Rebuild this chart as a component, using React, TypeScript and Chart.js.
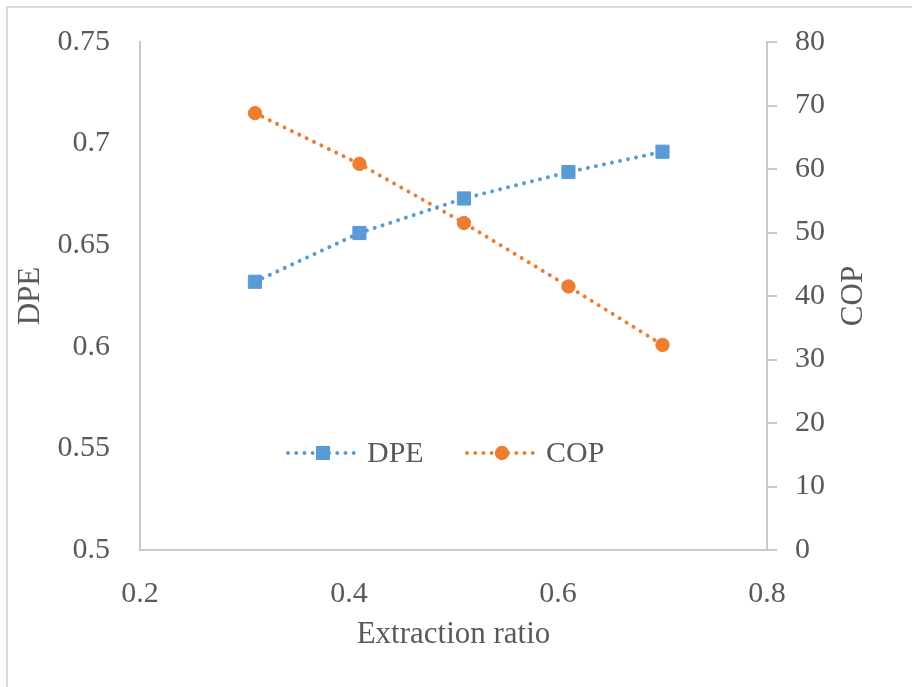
import React, { useEffect, useRef } from "react";
import { Chart, registerables } from "chart.js";

Chart.register(...registerables);

// Extraction ratio values on the x axis
const extractionRatio = [0.31, 0.41, 0.51, 0.61, 0.7];
// Series values
const dpeValues = [0.632, 0.656, 0.673, 0.686, 0.696];
const copValues = [68.8, 60.8, 51.5, 41.5, 32.3];
// Series names
const seriesNames = ["DPE", "COP"];

const BLUE = "#5B9BD5";
const ORANGE = "#ED7D31";
const TEXT = "#595959";
const AXIS = "#c9c9c9";
const FONT = "'Liberation Serif', 'Times New Roman', serif";

const W = 912;
const H = 687;

const fmt = (v: number | string) => String(+Number(v).toFixed(2));

// Right-side axis title that reads bottom-to-top, plus an in-plot legend
const extrasPlugin = {
  id: "extras",
  afterDatasetsDraw(chart: any) {
    const { ctx, chartArea } = chart;
    ctx.save();

    // COP axis title
    ctx.fillStyle = TEXT;
    ctx.font = `31px ${FONT}`;
    ctx.textAlign = "center";
    ctx.textBaseline = "middle";
    ctx.translate(chartArea.right + 87, (chartArea.top + chartArea.bottom) / 2);
    ctx.rotate(-Math.PI / 2);
    ctx.fillText("COP", 0, 0);
    ctx.setTransform(1, 0, 0, 1, 0, 0);

    // Legend inside the plot area
    const ly = chartArea.top + 411;
    const items = [
      { name: seriesNames[0], color: BLUE, shape: "rect", x0: chartArea.left + 148 },
      { name: seriesNames[1], color: ORANGE, shape: "circle", x0: chartArea.left + 327 },
    ];
    items.forEach((it) => {
      ctx.strokeStyle = it.color;
      ctx.lineWidth = 4;
      ctx.lineCap = "round";
      ctx.setLineDash([0.01, 8.2]);
      ctx.beginPath();
      ctx.moveTo(it.x0, ly);
      ctx.lineTo(it.x0 + 70, ly);
      ctx.stroke();
      ctx.setLineDash([]);
      ctx.fillStyle = it.color;
      const mx = it.x0 + 35;
      if (it.shape === "rect") {
        ctx.fillRect(mx - 7, ly - 7, 14, 14);
      } else {
        ctx.beginPath();
        ctx.arc(mx, ly, 7.2, 0, Math.PI * 2);
        ctx.fill();
      }
      ctx.fillStyle = TEXT;
      ctx.font = `30px ${FONT}`;
      ctx.textAlign = "left";
      ctx.textBaseline = "middle";
      ctx.fillText(it.name, it.x0 + 79, ly + 1);
    });
    ctx.restore();
  },
};

const noVPad = (s: any) => {
  s.paddingTop = 0;
  s.paddingBottom = 0;
};

export default function App() {
  const canvasRef = useRef<HTMLCanvasElement | null>(null);

  useEffect(() => {
    if (!canvasRef.current) return;
    const tickFont = { family: FONT, size: 30 };
    const chart = new Chart(canvasRef.current, {
      type: "line",
      data: {
        datasets: [
          {
            label: seriesNames[0],
            data: extractionRatio.map((x, i) => ({ x, y: dpeValues[i] })),
            yAxisID: "y",
            borderColor: BLUE,
            backgroundColor: BLUE,
            borderWidth: 4,
            borderDash: [0.01, 8.2],
            borderCapStyle: "round",
            pointStyle: "rect",
            pointRadius: 9.3,
            pointBorderWidth: 1,
            pointBackgroundColor: BLUE,
            pointBorderColor: BLUE,
            tension: 0,
          },
          {
            label: seriesNames[1],
            data: extractionRatio.map((x, i) => ({ x, y: copValues[i] })),
            yAxisID: "y2",
            borderColor: ORANGE,
            backgroundColor: ORANGE,
            borderWidth: 4,
            borderDash: [0.01, 8.2],
            borderCapStyle: "round",
            pointStyle: "circle",
            pointRadius: 6.7,
            pointBorderWidth: 1,
            pointBackgroundColor: ORANGE,
            pointBorderColor: ORANGE,
            tension: 0,
          },
        ],
      },
      options: {
        animation: false,
        responsive: false,
        layout: { padding: { top: 42, left: 0, right: 0, bottom: 0 } },
        plugins: { legend: { display: false }, tooltip: { enabled: false } },
        scales: {
          x: {
            type: "linear",
            min: 0.2,
            max: 0.8,
            ticks: { stepSize: 0.2, color: TEXT, font: tickFont, padding: 26, callback: fmt },
            grid: { display: false, drawTicks: false },
            border: { display: true, color: AXIS, width: 2 },
            title: {
              display: true,
              text: "Extraction ratio",
              color: TEXT,
              font: { family: FONT, size: 31 },
              padding: { top: 0, bottom: 34 },
            },
            afterFit: (s: any) => {
              s.height = H - 550;
              s.paddingLeft = 0;
              s.paddingRight = 0;
            },
          },
          y: {
            type: "linear",
            position: "left",
            min: 0.5,
            max: 0.75,
            ticks: { stepSize: 0.05, color: TEXT, font: tickFont, padding: 30, callback: fmt },
            grid: { display: false, drawTicks: false },
            border: { display: true, color: AXIS, width: 2 },
            title: {
              display: true,
              text: "DPE",
              color: TEXT,
              font: { family: FONT, size: 31 },
              padding: { top: 12, bottom: 0 },
            },
            afterFit: (s: any) => {
              s.width = 140;
              noVPad(s);
            },
          },
          y2: {
            type: "linear",
            position: "right",
            min: 0,
            max: 80,
            ticks: { stepSize: 10, color: TEXT, font: tickFont, padding: 18 },
            grid: {
              display: true,
              drawOnChartArea: false,
              drawTicks: true,
              tickLength: 10,
              color: AXIS,
              lineWidth: 2,
            },
            border: { display: true, color: AXIS, width: 2 },
            afterFit: (s: any) => {
              s.width = W - 767;
              noVPad(s);
            },
          },
        },
      },
      plugins: [extrasPlugin],
    } as any);
    return () => chart.destroy();
  }, []);

  return (
    <div
      style={{
        position: "fixed",
        left: 0,
        top: 0,
        width: W,
        height: H,
        overflow: "hidden",
        background: "#fff",
      }}
    >
      <div
        style={{
          position: "absolute",
          left: 6,
          top: 6,
          width: W + 40,
          height: H + 40,
          border: "2px solid #dadada",
        }}
      />
      <canvas
        ref={canvasRef}
        width={W}
        height={H}
        style={{ position: "absolute", left: 0, top: 0 }}
      />
    </div>
  );
}
